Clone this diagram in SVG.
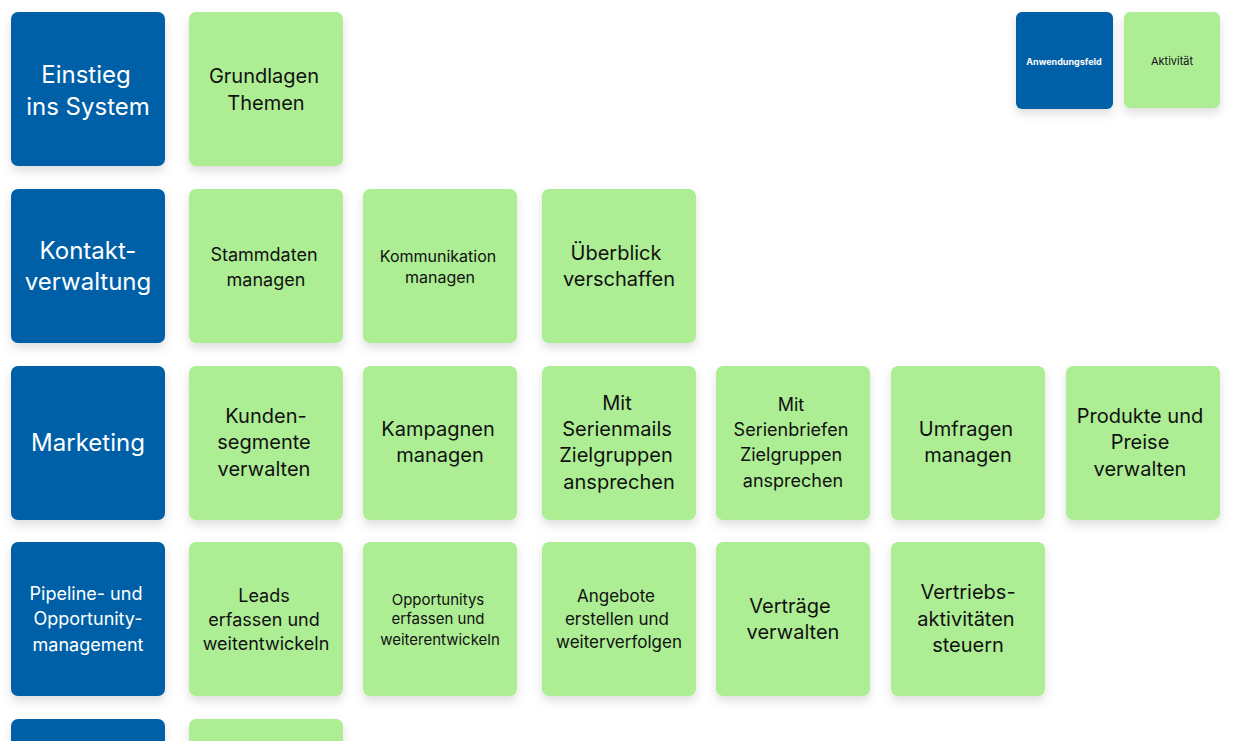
<svg xmlns="http://www.w3.org/2000/svg" width="1233" height="741" viewBox="0 0 1233 741">
<defs>
<filter id="sh" x="-20%" y="-20%" width="140%" height="150%">
<feDropShadow dx="0" dy="5" stdDeviation="5" flood-color="#000" flood-opacity="0.13"/>
</filter>
<style>
.b{fill:#0461a7;filter:url(#sh)}
.g{fill:#aded94;filter:url(#sh)}
text{font-family:Inter,Lato,"Liberation Sans",sans-serif;text-anchor:middle;dominant-baseline:central}
.tw{fill:#fff}
.tk{fill:#111}
</style>
</defs>
<rect width="1233" height="741" fill="#fff"/>
<g id="connectors"></g>

<!-- Row 1 -->
<g id="einstieg"><rect class="b" x="11" y="12" width="154" height="154" rx="7"/>
<text class="tw" x="88" font-size="24"><tspan x="86" y="74">Einstieg</tspan><tspan x="88" y="106">ins System</tspan></text></g>
<g id="grundlagen"><rect class="g" x="189" y="12" width="154" height="154" rx="7"/>
<text class="tk" font-size="20"><tspan x="264" y="76">Grundlagen</tspan><tspan x="266" y="103">Themen</tspan></text></g>

<!-- Legend -->
<g id="legend-anwendungsfeld"><rect class="b" x="1016" y="12" width="97" height="97" rx="6"/>
<text class="tw" font-size="9" font-weight="bold" x="1064" y="61">Anwendungsfeld</text></g>
<g id="legend-aktivitaet"><rect class="g" x="1124" y="12" width="96" height="96" rx="6"/>
<text class="tk" font-size="11" x="1172" y="61">Aktivität</text></g>

<!-- Row 2 -->
<g id="kontakt"><rect class="b" x="11" y="189" width="154" height="154" rx="7"/>
<text class="tw" font-size="24"><tspan x="88" y="250">Kontakt-</tspan><tspan x="88" y="281">verwaltung</tspan></text></g>
<g id="stammdaten"><rect class="g" x="189" y="189" width="154" height="154" rx="7"/>
<text class="tk" font-size="18"><tspan x="264" y="254">Stammdaten</tspan><tspan x="266" y="279">managen</tspan></text></g>
<g id="kommunikation"><rect class="g" x="363" y="189" width="154" height="154" rx="7"/>
<text class="tk" font-size="16"><tspan x="438" y="256">Kommunikation</tspan><tspan x="440" y="277">managen</tspan></text></g>
<g id="ueberblick"><rect class="g" x="542" y="189" width="154" height="154" rx="7"/>
<text class="tk" font-size="20"><tspan x="616" y="253">Überblick</tspan><tspan x="619" y="279">verschaffen</tspan></text></g>

<!-- Row 3 -->
<g id="marketing"><rect class="b" x="11" y="366" width="154" height="154" rx="7"/>
<text class="tw" font-size="24" x="88" y="442">Marketing</text></g>
<g id="kundensegmente"><rect class="g" x="189" y="366" width="154" height="154" rx="7"/>
<text class="tk" font-size="20"><tspan x="266" y="416">Kunden-</tspan><tspan x="264" y="442">segmente</tspan><tspan x="264" y="469">verwalten</tspan></text></g>
<g id="kampagnen"><rect class="g" x="363" y="366" width="154" height="154" rx="7"/>
<text class="tk" font-size="20"><tspan x="438" y="429">Kampagnen</tspan><tspan x="440" y="455">managen</tspan></text></g>
<g id="serienmails"><rect class="g" x="542" y="366" width="154" height="154" rx="7"/>
<text class="tk" font-size="20"><tspan x="617" y="403">Mit</tspan><tspan x="617" y="429">Serienmails</tspan><tspan x="616" y="455">Zielgruppen</tspan><tspan x="619" y="482">ansprechen</tspan></text></g>
<g id="serienbriefe"><rect class="g" x="716" y="366" width="154" height="154" rx="7"/>
<text class="tk" font-size="18"><tspan x="791" y="404">Mit</tspan><tspan x="791" y="429">Serienbriefen</tspan><tspan x="791" y="454">Zielgruppen</tspan><tspan x="793" y="480">ansprechen</tspan></text></g>
<g id="umfragen"><rect class="g" x="891" y="366" width="154" height="154" rx="7"/>
<text class="tk" font-size="20"><tspan x="966" y="429">Umfragen</tspan><tspan x="968" y="455">managen</tspan></text></g>
<g id="produkte"><rect class="g" x="1066" y="366" width="154" height="154" rx="7"/>
<text class="tk" font-size="20"><tspan x="1140" y="416">Produkte und</tspan><tspan x="1140" y="442">Preise</tspan><tspan x="1140" y="469">verwalten</tspan></text></g>

<!-- Row 4 -->
<g id="pipeline"><rect class="b" x="11" y="542" width="154" height="154" rx="7"/>
<text class="tw" font-size="18"><tspan x="86" y="593">Pipeline- und</tspan><tspan x="88" y="618">Opportunity-</tspan><tspan x="88" y="644">management</tspan></text></g>
<g id="leads"><rect class="g" x="189" y="542" width="154" height="154" rx="7"/>
<text class="tk" font-size="18"><tspan x="264" y="595">Leads</tspan><tspan x="264" y="619">erfassen und</tspan><tspan x="266" y="643">weitentwickeln</tspan></text></g>
<g id="opportunitys"><rect class="g" x="363" y="542" width="154" height="154" rx="7"/>
<text class="tk" font-size="15"><tspan x="438" y="599">Opportunitys</tspan><tspan x="438" y="618">erfassen und</tspan><tspan x="440" y="639">weiterentwickeln</tspan></text></g>
<g id="angebote"><rect class="g" x="542" y="542" width="154" height="154" rx="7"/>
<text class="tk" font-size="17"><tspan x="616" y="596">Angebote</tspan><tspan x="617" y="619">erstellen und</tspan><tspan x="619" y="642">weiterverfolgen</tspan></text></g>
<g id="vertraege"><rect class="g" x="716" y="542" width="154" height="154" rx="7"/>
<text class="tk" font-size="20"><tspan x="790" y="606">Verträge</tspan><tspan x="793" y="632">verwalten</tspan></text></g>
<g id="vertriebsaktivitaeten"><rect class="g" x="891" y="542" width="154" height="154" rx="7"/>
<text class="tk" font-size="20"><tspan x="968" y="592">Vertriebs-</tspan><tspan x="966" y="619">aktivitäten</tspan><tspan x="968" y="645">steuern</tspan></text></g>

<!-- Row 5 (cut off) -->
<g id="row5-field"><rect class="b" x="11" y="719" width="154" height="154" rx="7"/></g>
<g id="row5-activity"><rect class="g" x="189" y="719" width="154" height="154" rx="7"/></g>
</svg>
